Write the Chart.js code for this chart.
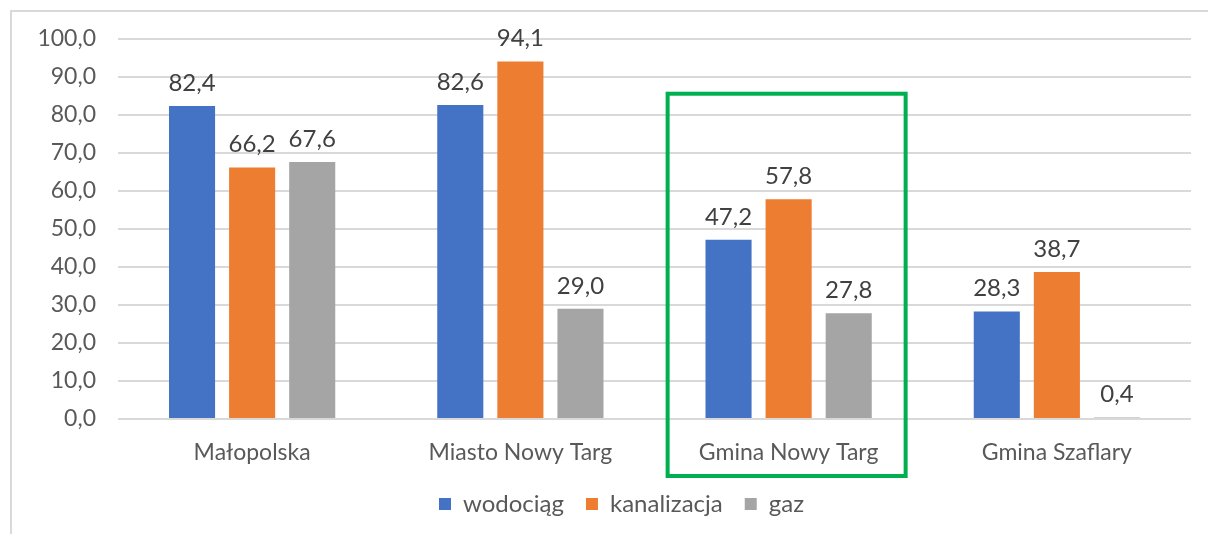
<!DOCTYPE html>
<html><head><meta charset="utf-8">
<script src="https://cdn.jsdelivr.net/npm/chart.js@4/dist/chart.umd.min.js"></script>
<style>html,body{margin:0;padding:0;background:#fff}#wrap{width:1208px;height:534px;position:relative}</style>
</head><body><div id="wrap"><canvas id="c" width="1208" height="534"></canvas></div>
<script>
const categories = ["Małopolska", "Miasto Nowy Targ", "Gmina Nowy Targ", "Gmina Szaflary"];
const seriesNames = ["wodociąg", "kanalizacja", "gaz"];
const wodociag = [82.4, 82.6, 47.2, 28.3];
const kanalizacja = [66.2, 94.1, 57.8, 38.7];
const gaz = [67.6, 29.0, 27.8, 0.4];
const colors = ["#4472C4", "#ED7D31", "#A5A5A5"];
const highlightIndex = 2;
const FONT = "Lato";
const fmt = v => Number(v).toFixed(1).replace('.', ',');

const framePlugin = {
  id: 'frame',
  beforeDraw(chart) {
    const ctx = chart.ctx;
    ctx.save();
    ctx.fillStyle = '#fff';
    ctx.fillRect(0, 0, chart.width, chart.height);
    ctx.strokeStyle = '#d9d9d9';
    ctx.lineWidth = 2;
    ctx.beginPath();
    ctx.moveTo(11, chart.height + 5);
    ctx.lineTo(11, 11);
    ctx.lineTo(chart.width + 5, 11);
    ctx.stroke();
    ctx.restore();
    // the chart frame extends past the right edge, so the legend is centred further right
    const lg = chart.legend;
    if (lg && !lg._shifted) {
      lg.left += 26; lg.right += 26;
      lg.adjustHitBoxes();
      lg._shifted = true;
    }
  }
};
const labelPlugin = {
  id: 'vals',
  afterDatasetsDraw(chart) {
    const ctx = chart.ctx;
    ctx.save();
    ctx.font = `24px ${FONT}`;
    ctx.fillStyle = '#404040';
    ctx.textAlign = 'center';
    ctx.textBaseline = 'alphabetic';
    chart.data.datasets.forEach((ds, i) => {
      chart.getDatasetMeta(i).data.forEach((bar, j) => {
        ctx.fillText(fmt(ds.data[j]), bar.x, bar.y - 15);
      });
    });
    ctx.restore();
  }
};
const boxPlugin = {
  id: 'box',
  afterDraw(chart) {
    const x = chart.scales.x, y = chart.scales.y;
    const cx = x.getPixelForValue(highlightIndex);
    const top = y.getPixelForValue(85.6);
    const bottom = y.getPixelForValue(0) + 57;
    const ctx = chart.ctx;
    ctx.save();
    ctx.strokeStyle = '#00B050';
    ctx.lineWidth = 4;
    ctx.strokeRect(cx - 121, top, 238, bottom - top);
    ctx.restore();
  }
};

new Chart(document.getElementById('c'), {
  type: 'bar',
  data: {
    labels: categories,
    datasets: [
      { label: seriesNames[0], data: wodociag, backgroundColor: colors[0] },
      { label: seriesNames[1], data: kanalizacja, backgroundColor: colors[1] },
      { label: seriesNames[2], data: gaz, backgroundColor: colors[2] }
    ]
  },
  options: {
    responsive: false,
    animation: false,
    devicePixelRatio: 1,
    categoryPercentage: 0.672,
    barPercentage: 0.767,
    layout: { padding: { top: 39, left: 0, right: 17, bottom: 8 } },
    plugins: {
      tooltip: { enabled: false },
      legend: {
        position: 'bottom',
        labels: { font: { family: FONT, size: 24 }, color: '#595959', boxWidth: 12, boxHeight: 12, padding: 22 }
      }
    },
    scales: {
      x: {
        grid: { display: false },
        border: { display: false },
        ticks: { font: { family: FONT, size: 23 }, color: '#595959', padding: 12 },
        afterFit(s) { s.height = 51; }
      },
      y: {
        min: 0, max: 100,
        grid: { color: '#d9d9d9', lineWidth: 2, drawTicks: false },
        border: { display: false },
        ticks: { stepSize: 10, font: { family: FONT, size: 23 }, color: '#595959', padding: 22, callback: v => fmt(v) },
        afterFit(s) { s.width = 118; }
      }
    }
  },
  plugins: [framePlugin, labelPlugin, boxPlugin]
});
</script></body></html>
